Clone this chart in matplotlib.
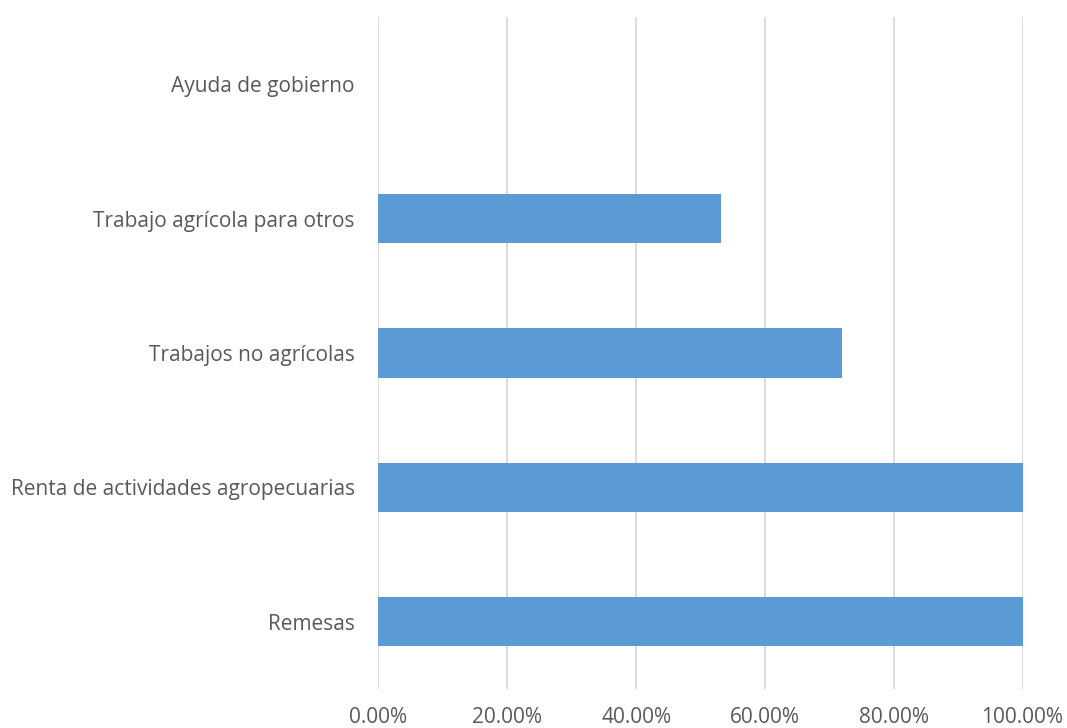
import matplotlib
matplotlib.use("Agg")
import matplotlib.pyplot as plt
from matplotlib.ticker import FuncFormatter

categorias = ["Remesas", "Renta de actividades agropecuarias", "Trabajos no agrícolas",
              "Trabajo agrícola para otros", "Ayuda de gobierno"]
valores = [1.00, 1.00, 0.72, 0.532, 0.0]
xticks = [0, 0.2, 0.4, 0.6, 0.8, 1.0]

plt.rcParams['font.family'] = ['Open Sans', 'DejaVu Sans']

fig = plt.figure(figsize=(10.67, 7.28), dpi=100)
ax = fig.add_axes([0.3547, 0.0536, 0.6036, 0.923])

ax.barh(range(len(categorias)), valores, height=0.365, color='#5B9BD5', zorder=2)

ax.set_xlim(0, 1.0)
ax.set_ylim(-0.5, len(categorias) - 0.5)
ax.set_xticks(xticks)
ax.xaxis.set_major_formatter(FuncFormatter(lambda v, p: f"{v*100:.2f}%"))
ax.set_yticks(range(len(categorias)))
ax.set_yticklabels(categorias)

ax.grid(axis='x', color='#D9D9D9', linewidth=1.3, zorder=0)
ax.set_axisbelow(True)
for s in ax.spines.values():
    s.set_visible(False)
ax.tick_params(axis='both', length=0, labelsize=15, labelcolor='#595959')
ax.tick_params(axis='y', pad=17)
ax.tick_params(axis='x', pad=13)

fig.savefig("out.png", dpi=100)
